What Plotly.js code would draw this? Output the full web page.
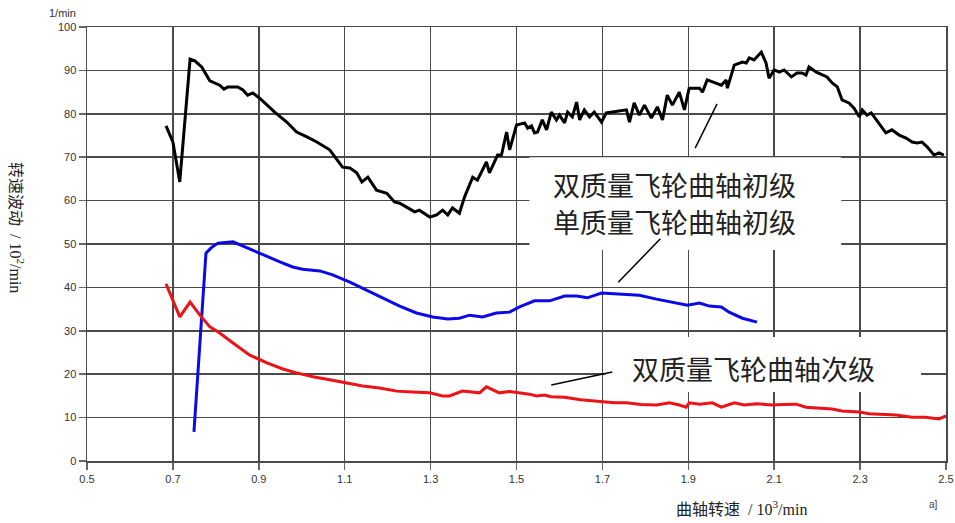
<!DOCTYPE html>
<html>
<head>
<meta charset="utf-8">
<script src="https://cdn.plot.ly/plotly-3.0.1.min.js"></script>
<style>html,body{margin:0;padding:0;background:#fff;}#chart{width:955px;height:523px;}</style>
</head>
<body>
<div id="chart"></div>
<script>
// Data
const dualPrimaryX = [0.684,0.700,0.716,0.740,0.751,0.767,0.786,0.809,0.819,0.828,0.851,0.863,0.874,0.886,0.902,0.919,0.937,0.965,0.988,1.012,1.035,1.065,1.095,1.112,1.128,1.140,1.154,1.174,1.198,1.216,1.228,1.244,1.263,1.274,1.298,1.314,1.328,1.340,1.351,1.367,1.379,1.398,1.409,1.430,1.437,1.456,1.465,1.477,1.484,1.500,1.519,1.526,1.535,1.542,1.549,1.560,1.570,1.581,1.593,1.600,1.612,1.619,1.630,1.640,1.647,1.658,1.670,1.681,1.698,1.709,1.723,1.756,1.763,1.774,1.786,1.798,1.814,1.828,1.840,1.851,1.863,1.879,1.891,1.902,1.926,1.933,1.944,1.965,1.977,1.988,1.991,2.007,2.026,2.035,2.042,2.053,2.060,2.070,2.081,2.088,2.100,2.112,2.123,2.130,2.140,2.153,2.165,2.174,2.181,2.198,2.212,2.223,2.235,2.247,2.258,2.274,2.286,2.298,2.305,2.316,2.326,2.344,2.360,2.374,2.391,2.407,2.421,2.433,2.444,2.456,2.472,2.484,2.495];
const dualPrimaryY = [77.2,73.5,64.3,92.6,92.2,90.8,87.6,86.6,85.7,86.2,86.2,85.5,84.3,84.8,83.6,82.0,80.4,78.1,75.8,74.7,73.5,71.7,67.7,67.5,66.4,64.3,65.4,62.4,61.7,59.7,59.4,58.5,57.4,57.8,56.2,56.7,57.8,56.7,58.3,57.1,60.8,65.4,64.7,68.9,66.4,70.5,70.5,75.8,71.7,77.4,77.9,76.7,77.2,75.6,75.8,78.6,76.3,80.4,78.6,79.7,77.9,80.4,79.3,82.7,78.6,80.9,79.3,80.4,78.1,80.2,80.4,80.9,78.1,82.5,79.7,82.0,79.0,81.6,78.6,84.3,82.0,85.0,80.9,85.9,85.9,85.0,87.8,87.1,86.6,87.8,85.9,91.2,91.9,91.7,92.9,92.4,93.1,94.2,91.7,88.2,90.1,89.6,90.1,89.4,88.5,89.4,89.4,88.9,90.8,89.6,88.9,88.5,87.1,86.2,83.2,82.5,81.3,79.3,80.9,79.7,80.2,77.9,75.6,76.3,75.1,74.4,73.5,73.3,73.5,72.4,70.5,71.0,70.5];

const singlePrimaryX = [0.749,0.777,0.790,0.805,0.840,0.872,0.902,0.949,0.979,1.002,1.042,1.072,1.112,1.151,1.188,1.228,1.267,1.305,1.340,1.367,1.391,1.421,1.453,1.484,1.507,1.542,1.577,1.612,1.640,1.665,1.698,1.733,1.786,1.826,1.863,1.898,1.926,1.949,1.977,1.995,2.026,2.060];
const singlePrimaryY = [6.7,47.9,49.2,50.2,50.5,49.1,47.9,45.9,44.7,44.2,43.8,42.9,41.2,39.4,37.6,35.7,34.1,33.2,32.7,32.9,33.6,33.2,34.1,34.3,35.5,36.9,36.9,38.0,38.0,37.6,38.7,38.5,38.2,37.3,36.6,35.9,36.4,35.7,35.5,34.3,32.9,32.0];

const dualSecondaryX = [0.684,0.716,0.740,0.763,0.786,0.809,0.840,0.879,0.919,0.956,0.988,1.026,1.065,1.105,1.142,1.181,1.221,1.258,1.298,1.328,1.344,1.374,1.395,1.414,1.430,1.445,1.460,1.484,1.507,1.530,1.547,1.565,1.580,1.612,1.649,1.681,1.705,1.728,1.756,1.790,1.826,1.856,1.879,1.895,1.902,1.926,1.956,1.977,2.007,2.030,2.060,2.095,2.120,2.151,2.174,2.212,2.235,2.258,2.298,2.321,2.344,2.384,2.421,2.452,2.484,2.500];
const dualSecondaryY = [40.8,33.2,36.6,33.6,30.9,29.5,27.2,24.4,22.6,21.2,20.3,19.4,18.7,18.0,17.3,16.8,16.1,15.9,15.7,15.0,15.0,16.1,15.9,15.7,17.1,16.4,15.7,16.0,15.7,15.4,15.0,15.2,14.8,14.7,14.1,13.8,13.6,13.4,13.4,13.0,12.9,13.4,12.9,12.4,13.4,13.1,13.4,12.4,13.4,12.9,13.2,12.9,13.0,13.1,12.4,12.2,12.0,11.5,11.3,10.9,10.8,10.6,10.1,10.1,9.7,10.4];

const xTicks = [0.5,0.7,0.9,1.1,1.3,1.5,1.7,1.9,2.1,2.3,2.5];
const xTickText = ["0.5","0.7","0.9","1.1","1.3","1.5","1.7","1.9","2.1","2.3","2.5"];
const yTicks = [0,10,20,30,40,50,60,70,80,90,100];

const label1 = "双质量飞轮曲轴初级";
const label2 = "单质量飞轮曲轴初级";
const label3 = "双质量飞轮曲轴次级";

const cjk = '"Noto Sans CJK SC", "Noto Sans", sans-serif';
const serif = '"Liberation Serif", "Noto Sans CJK SC", serif';
const sans = '"Liberation Sans", Arial, sans-serif';

const traces = [
  {x: dualPrimaryX, y: dualPrimaryY, mode: 'lines', line: {color: '#000000', width: 3}, hoverinfo: 'none'},
  {x: singlePrimaryX, y: singlePrimaryY, mode: 'lines', line: {color: '#0a0ae8', width: 3}, hoverinfo: 'none'},
  {x: dualSecondaryX, y: dualSecondaryY, mode: 'lines', line: {color: '#ec1216', width: 3}, hoverinfo: 'none'}
];

const axisCommon = {
  showgrid: true, gridcolor: '#4a4a4a', gridwidth: 1.5,
  showline: true, linecolor: '#4a4a4a', linewidth: 1.5, mirror: true,
  zeroline: false, ticks: 'outside', ticklen: 7, tickcolor: '#666', tickwidth: 1.5,
  tickfont: {family: sans, size: 11, color: '#333'}
};

function ann(o) {
  return Object.assign({showarrow: false, xanchor: 'center', yanchor: 'middle'}, o);
}

const layout = {
  width: 955, height: 523,
  margin: {l: 87, r: 9, t: 27, b: 62},
  paper_bgcolor: '#fff', plot_bgcolor: '#fff',
  showlegend: false,
  xaxis: Object.assign({}, axisCommon, {range: [0.5, 2.5], tickvals: xTicks, ticktext: xTickText}),
  yaxis: Object.assign({}, axisCommon, {range: [0, 100], tickvals: yTicks}),
  shapes: [
    {type: 'rect', xref: 'x', yref: 'y', x0: 1.530, x1: 2.256, y0: 48.6, y1: 70.0, fillcolor: '#fff', line: {width: 0}, layer: 'above'},
    {type: 'rect', xref: 'x', yref: 'y', x0: 1.707, x1: 2.442, y0: 15.9, y1: 28.6, fillcolor: '#fff', line: {width: 0}, layer: 'above'},
    {type: 'line', xref: 'x', yref: 'y', x0: 1.916, y0: 72.1, x1: 1.967, y1: 82.3, line: {color: '#000', width: 1.5}, layer: 'above'},
    {type: 'line', xref: 'x', yref: 'y', x0: 1.737, y0: 41.2, x1: 1.835, y1: 51.2, line: {color: '#000', width: 1.5}, layer: 'above'},
    {type: 'line', xref: 'x', yref: 'y', x0: 1.581, y0: 17.5, x1: 1.723, y1: 20.5, line: {color: '#000', width: 1.5}, layer: 'above'}
  ],
  annotations: [
    ann({xref: 'x', yref: 'y', x: 1.867, y: 63.6, text: label1, font: {family: cjk, size: 27, color: '#222'}}),
    ann({xref: 'x', yref: 'y', x: 1.867, y: 55.1, text: label2, font: {family: cjk, size: 27, color: '#222'}}),
    ann({xref: 'x', yref: 'y', x: 2.051, y: 21.4, text: label3, font: {family: cjk, size: 27, color: '#222'}}),
    ann({xref: 'paper', yref: 'paper', x: -0.0815, y: 0.537, text: '转速波动  / 10<sup>2</sup>/min', textangle: 90, font: {family: serif, size: 16, color: '#222'}}),
    ann({xref: 'paper', yref: 'paper', x: 0.7625, y: -0.108, text: '曲轴转速  / 10<sup>3</sup>/min', font: {family: serif, size: 16, color: '#222'}}),
    ann({xref: 'paper', yref: 'paper', x: -0.029, y: 1.032, text: '1/min', font: {family: sans, size: 11, color: '#333'}}),
    ann({xref: 'paper', yref: 'paper', x: 0.986, y: -0.101, text: 'a]', font: {family: sans, size: 10, color: '#444'}})
  ]
};

Plotly.newPlot('chart', traces, layout, {staticPlot: true, displayModeBar: false});
</script>
</body>
</html>
